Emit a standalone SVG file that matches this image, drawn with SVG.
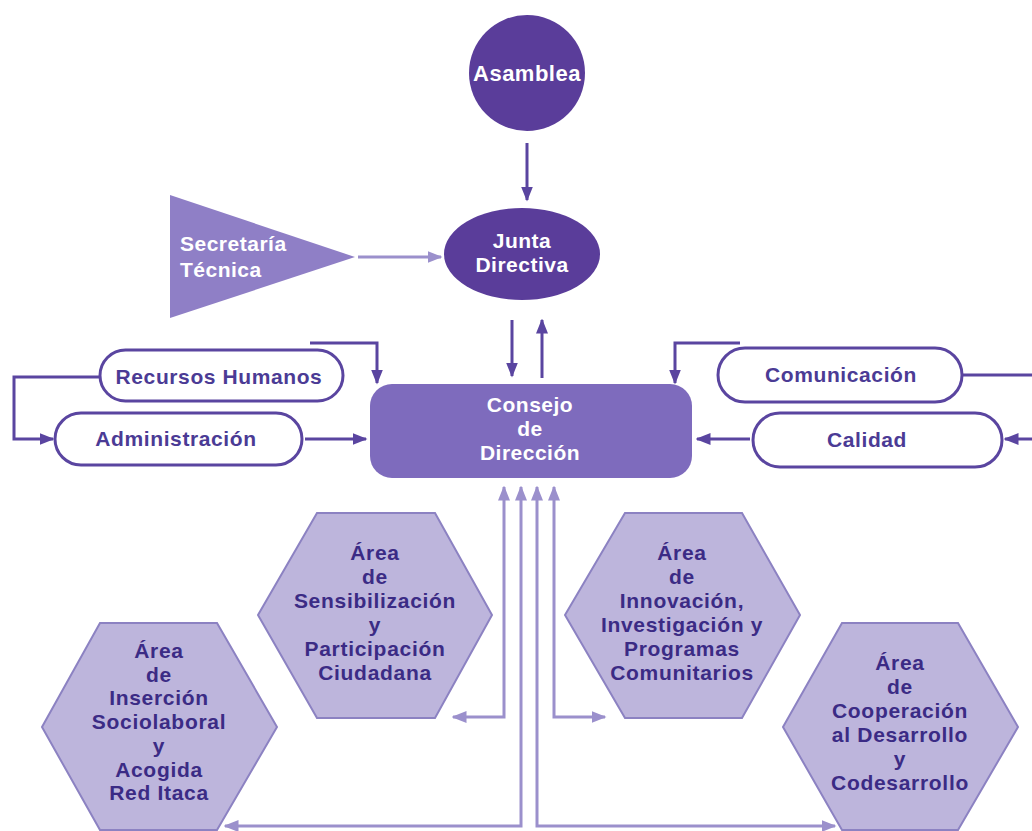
<svg xmlns="http://www.w3.org/2000/svg" width="1032" height="831" viewBox="0 0 1032 831">
<defs>
<marker id="ad" viewBox="0 0 10 10" refX="9" refY="5" markerWidth="5" markerHeight="5" markerUnits="strokeWidth" orient="auto-start-reverse"><path d="M0,1 L10,5 L0,9 Z" fill="#5a45a0"/></marker>
<marker id="al" viewBox="0 0 10 10" refX="9" refY="5" markerWidth="5" markerHeight="5" markerUnits="strokeWidth" orient="auto-start-reverse"><path d="M0,1 L10,5 L0,9 Z" fill="#9b90cc"/></marker>
<style>
text{font-family:"Liberation Sans",Arial,sans-serif;font-weight:bold;text-anchor:middle;font-size:21px}
.w{fill:#ffffff;letter-spacing:0.5px}
.p{fill:#4b3b95;letter-spacing:0.6px}
.h{fill:#3b2b85;letter-spacing:0.7px}
.pill{fill:#ffffff;stroke:#5a45a0;stroke-width:3}
.hex{fill:#bdb5dc;stroke:#8c82c2;stroke-width:2}
.cd{fill:none;stroke:#5a45a0;stroke-width:3;marker-end:url(#ad)}
.cdn{fill:none;stroke:#5a45a0;stroke-width:3}
.cl{fill:none;stroke:#9b90cc;stroke-width:3;marker-end:url(#al)}
.cl2{fill:none;stroke:#9b90cc;stroke-width:3;marker-start:url(#al);marker-end:url(#al)}
</style>
</defs>
<rect width="1032" height="831" fill="#ffffff"/>
<g id="connectors">
<path class="cd" d="M527,143 L527,200"/>
<path class="cl" d="M358,257 L441,257"/>
<path class="cd" d="M512,320 L512,376"/>
<path class="cd" d="M542,378 L542,320"/>
<path class="cd" d="M100,377 L14,377 L14,439 L53,439"/>
<path class="cd" d="M310,343 L377,343 L377,383"/>
<path class="cd" d="M305,439 L366,439"/>
<path class="cdn" d="M962,375 L1032,375"/>
<path class="cd" d="M1032,439 L1005,439"/>
<path class="cd" d="M740,343 L675,343 L675,383"/>
<path class="cd" d="M750,439 L697,439"/>
<path class="cl2" d="M453,717 L504,717 L504,487"/>
<path class="cl2" d="M225,826 L521,826 L521,487"/>
<path class="cl2" d="M835,826 L537,826 L537,487"/>
<path class="cl2" d="M605,717 L554,717 L554,487"/>
</g>
<g id="asamblea">
<circle cx="527" cy="73" r="58" fill="#5a3d9a"/>
<text class="w" x="527" y="81" style="font-size:22px">Asamblea</text>
</g>
<g id="secretaria">
<polygon points="170,195 170,318 355,257" fill="#8f7fc6"/>
<text class="w" x="180" y="251" style="text-anchor:start">Secretaría</text>
<text class="w" x="180" y="277" style="text-anchor:start">Técnica</text>
</g>
<g id="junta">
<ellipse cx="522" cy="254" rx="78" ry="46" fill="#5a3d9a"/>
<text class="w" x="522" y="248">Junta</text>
<text class="w" x="522" y="272">Directiva</text>
</g>
<g id="consejo">
<rect x="370" y="384" width="322" height="94" rx="22" fill="#7e6bbd"/>
<text class="w" x="530" y="412">Consejo</text>
<text class="w" x="530" y="436">de</text>
<text class="w" x="530" y="460">Dirección</text>
</g>
<g id="rrhh">
<rect class="pill" x="100" y="350" width="243" height="51" rx="25.5"/>
<text class="p" x="219" y="384">Recursos Humanos</text>
</g>
<g id="administracion">
<rect class="pill" x="55" y="413" width="247" height="52" rx="26"/>
<text class="p" x="176" y="446">Administración</text>
</g>
<g id="comunicacion">
<rect class="pill" x="718" y="348" width="244" height="54" rx="27"/>
<text class="p" x="841" y="382">Comunicación</text>
</g>
<g id="calidad">
<rect class="pill" x="753" y="413" width="249" height="54" rx="27"/>
<text class="p" x="867" y="447">Calidad</text>
</g>
<g id="sensibilizacion">
<polygon class="hex" points="258,615 317,513 435,513 492,615 435,718 317,718"/>
<text class="h" x="375" y="560">Área</text>
<text class="h" x="375" y="584">de</text>
<text class="h" x="375" y="608">Sensibilización</text>
<text class="h" x="375" y="632">y</text>
<text class="h" x="375" y="656">Participación</text>
<text class="h" x="375" y="680">Ciudadana</text>
</g>
<g id="innovacion">
<polygon class="hex" points="565,615 625,513 742,513 800,615 742,718 625,718"/>
<text class="h" x="682" y="560">Área</text>
<text class="h" x="682" y="584">de</text>
<text class="h" x="682" y="608">Innovación,</text>
<text class="h" x="682" y="632">Investigación y</text>
<text class="h" x="682" y="656">Programas</text>
<text class="h" x="682" y="680">Comunitarios</text>
</g>
<g id="insercion">
<polygon class="hex" points="42,727 100,623 217,623 277,727 217,830 100,830"/>
<text class="h" x="159" y="658">Área</text>
<text class="h" x="159" y="681.7">de</text>
<text class="h" x="159" y="705.4">Inserción</text>
<text class="h" x="159" y="729.1">Sociolaboral</text>
<text class="h" x="159" y="752.8">y</text>
<text class="h" x="159" y="776.5">Acogida</text>
<text class="h" x="159" y="800.2">Red Itaca</text>
</g>
<g id="cooperacion">
<polygon class="hex" points="783,727 842,623 958,623 1018,727 958,830 842,830"/>
<text class="h" x="900" y="670">Área</text>
<text class="h" x="900" y="694">de</text>
<text class="h" x="900" y="718">Cooperación</text>
<text class="h" x="900" y="742">al Desarrollo</text>
<text class="h" x="900" y="766">y</text>
<text class="h" x="900" y="790">Codesarrollo</text>
</g>
</svg>
